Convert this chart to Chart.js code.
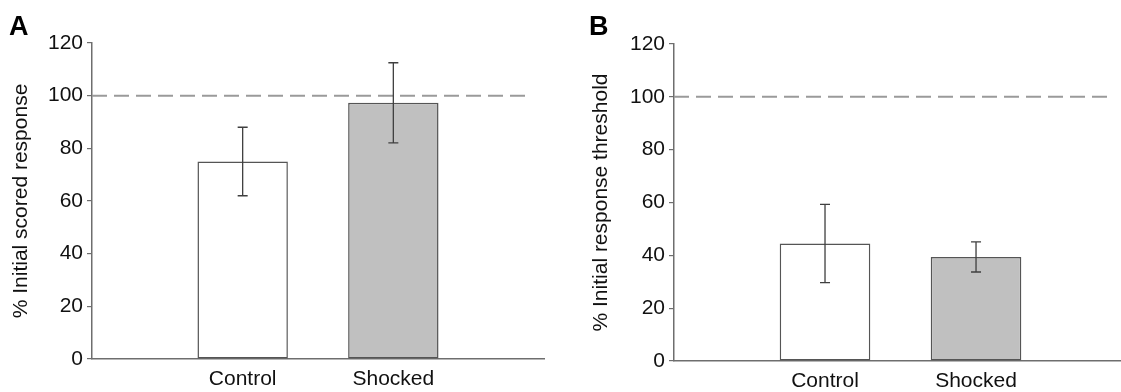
<!DOCTYPE html>
<html>
<head>
<meta charset="utf-8">
<script src="https://cdn.jsdelivr.net/npm/chart.js@4.4.1/dist/chart.umd.min.js"></script>
<style>
  html, body { margin: 0; padding: 0; background: #ffffff; }
  body { width: 1121px; height: 392px; position: relative; overflow: hidden; }
  .panel { position: absolute; top: 0; height: 392px; }
  #wrapA { left: 0; width: 560px; }
  #wrapB { left: 560px; width: 561px; }
</style>
</head>
<body>
<div class="panel" id="wrapA"><canvas id="chartA"></canvas></div>
<div class="panel" id="wrapB"><canvas id="chartB"></canvas></div>
<script>
// ---- Data ----
const categories = ['Control', 'Shocked'];
const categoryPositions = [1, 2];
const yTicks = [0, 20, 40, 60, 80, 100, 120];
const referenceLevel = 100;

const panelALabel = 'A';
const panelATitle = '% Initial scored response';
const panelAValues = [75, 97.3];
const panelAErrors = [13, 15.2];

const panelBLabel = 'B';
const panelBTitle = '% Initial response threshold';
const panelBValues = [44.5, 39.4];
const panelBErrors = [14.8, 5.7];

const barFills = ['#ffffff', '#c0c0c0'];

// ---- Plugins ----
const FONT = "'Liberation Sans', Arial, Helvetica, sans-serif";

const refLinePlugin = {
  id: 'refLine',
  beforeDatasetsDraw(chart, args, opts) {
    const {ctx} = chart;
    const xs = chart.scales.x, ys = chart.scales.y;
    const y = ys.getPixelForValue(opts.value);
    ctx.save();
    ctx.strokeStyle = '#9a9a9a';
    ctx.lineWidth = 2;
    ctx.setLineDash([15, 7]);
    ctx.beginPath();
    ctx.moveTo(xs.getPixelForValue(opts.from), y);
    ctx.lineTo(xs.getPixelForValue(opts.to), y);
    ctx.stroke();
    ctx.restore();
  }
};

const errorBarPlugin = {
  id: 'errorBars',
  afterDatasetsDraw(chart, args, opts) {
    const {ctx} = chart;
    const ys = chart.scales.y;
    const meta = chart.getDatasetMeta(0);
    const data = chart.data.datasets[0].data;
    ctx.save();
    ctx.strokeStyle = '#3f3f3f';
    ctx.lineWidth = 1.3;
    meta.data.forEach((bar, i) => {
      const v = data[i].y, e = opts.errors[i];
      const top = ys.getPixelForValue(v + e);
      const bot = ys.getPixelForValue(v - e);
      const x = bar.x, cap = 5;
      ctx.beginPath();
      ctx.moveTo(x, top); ctx.lineTo(x, bot);
      ctx.moveTo(x - cap, top); ctx.lineTo(x + cap, top);
      ctx.moveTo(x - cap, bot); ctx.lineTo(x + cap, bot);
      ctx.stroke();
    });
    ctx.restore();
  }
};

const panelLetterPlugin = {
  id: 'panelLetter',
  afterDraw(chart, args, opts) {
    const {ctx} = chart;
    ctx.save();
    ctx.fillStyle = '#000000';
    ctx.font = 'bold 27px ' + FONT;
    ctx.textBaseline = 'alphabetic';
    ctx.textAlign = 'left';
    ctx.fillText(opts.text, opts.x, opts.y);
    ctx.restore();
  }
};

function makeChart(id, cfg) {
  const points = categoryPositions.map((p, i) => ({x: p, y: cfg.values[i]}));
  return new Chart(document.getElementById(id), {
    type: 'bar',
    data: {
      datasets: [{
        data: points,
        backgroundColor: barFills,
        borderColor: '#555555',
        borderWidth: 1.5,
        borderSkipped: false,
        barPercentage: 0.6,
        categoryPercentage: 1.0
      }]
    },
    options: {
      responsive: true,
      maintainAspectRatio: false,
      animation: false,
      layout: { padding: { left: 0, right: cfg.padRight, top: cfg.padTop, bottom: 0 } },
      plugins: {
        legend: { display: false },
        tooltip: { enabled: false },
        refLine: { value: referenceLevel, from: 0, to: 2.88 },
        errorBars: { errors: cfg.errors },
        panelLetter: { text: cfg.letter, x: cfg.letterX, y: 35 }
      },
      scales: {
        x: {
          type: 'linear',
          offset: false,
          bounds: 'data',
          min: 0,
          max: cfg.xMax,
          afterBuildTicks(scale) { scale.ticks = categoryPositions.map(v => ({value: v})); },
          afterFit(scale) { scale.height = cfg.xHeight; },
          grid: { display: false, drawTicks: false, offset: false },
          border: { display: true, color: '#6e6e6e', width: 1.5 },
          ticks: {
            padding: 8,
            color: '#111111',
            font: { family: FONT, size: 21 },
            maxRotation: 0,
            autoSkip: false,
            callback(value, index) { return categories[index]; }
          }
        },
        y: {
          min: 0,
          max: 120,
          afterBuildTicks(scale) { scale.ticks = yTicks.map(v => ({value: v})); },
          afterFit(scale) { scale.width = cfg.yWidth; },
          grid: { display: true, drawOnChartArea: false, drawTicks: true, tickLength: 5, color: '#6e6e6e', lineWidth: 1.2 },
          border: { display: true, color: '#6e6e6e', width: 1.5 },
          ticks: {
            padding: 4,
            color: '#111111',
            font: { family: FONT, size: 21 }
          },
          title: {
            display: true,
            text: cfg.title,
            color: '#111111',
            font: { family: FONT, size: 21 },
            padding: { top: cfg.titlePad, bottom: 0 }
          }
        }
      }
    },
    plugins: [refLinePlugin, errorBarPlugin, panelLetterPlugin]
  });
}

makeChart('chartA', {
  values: panelAValues, errors: panelAErrors, title: panelATitle, letter: panelALabel,
  letterX: 9, padTop: 43, padRight: 16, xMax: 3, xHeight: 33, yWidth: 92, titlePad: 9
});
makeChart('chartB', {
  values: panelBValues, errors: panelBErrors, title: panelBTitle, letter: panelBLabel,
  letterX: 29, padTop: 44, padRight: 0, xMax: 2.96, xHeight: 31, yWidth: 114, titlePad: 29
});
</script>
</body>
</html>
